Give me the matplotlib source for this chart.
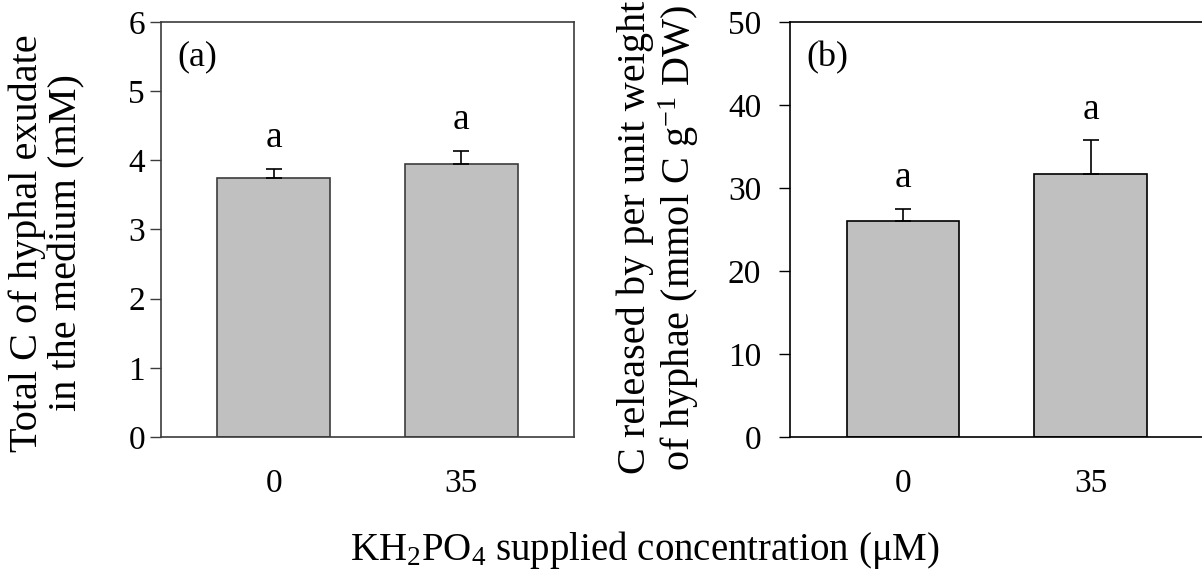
import numpy as np
import matplotlib
matplotlib.use("Agg")
import matplotlib.pyplot as plt

plt.rcParams['font.family'] = ['Liberation Serif', 'DejaVu Serif']
plt.rcParams['mathtext.fontset'] = 'custom'
plt.rcParams['mathtext.rm'] = 'Liberation Serif'
plt.rcParams['mathtext.it'] = 'Liberation Serif:italic'

# data
conc = ['0', '35']
totalC = [3.74, 3.95]          # mM
totalC_se = [0.14, 0.19]
perWeight = [26.0, 31.65]      # mmol C g-1 DW
perWeight_se = [1.5, 4.1]
letters_a = ['a', 'a']
letters_b = ['a', 'a']

fig = plt.figure(figsize=(12.02, 5.80), dpi=100)
axA = fig.add_axes([0.1339, 0.2466, 0.3436, 0.7155])
axB = fig.add_axes([0.6575, 0.2466, 0.3436, 0.7155])

def panel(ax, vals, errs, lets, ymax, step, tag, spcol, pad):
    x = np.arange(len(vals))
    ax.bar(x, vals, width=0.6, color='#c0c0c0', edgecolor=spcol, linewidth=1.2, zorder=2)
    ax.errorbar(x, vals, yerr=[np.zeros(len(errs)), errs], fmt='none',
                ecolor='black', elinewidth=1.2, capsize=5.5, capthick=1.2, zorder=3)
    for xi, v, e, l in zip(x, vals, errs, lets):
        ax.annotate(l, (xi, v + e), xytext=(0, 15.5), textcoords='offset points',
                    ha='center', va='baseline', fontsize=27)
    ax.set_xlim(-0.6, 1.6)
    ax.set_ylim(0, ymax)
    ax.set_yticks(np.arange(0, ymax + step / 2, step))
    ax.set_xticks(x)
    ax.set_xticklabels(conc)
    ax.tick_params(axis='y', direction='out', length=8, width=1, labelsize=24, pad=pad, color=spcol)
    ax.tick_params(axis='x', length=0, labelsize=24, pad=23)
    for s in ax.spines.values():
        s.set_color(spcol)
        s.set_linewidth(1.2)
    ax.text(0.04, 0.955, tag, transform=ax.transAxes, ha='left', va='top', fontsize=26)

panel(axA, totalC, totalC_se, letters_a, 6, 1, '(a)', '#3c3c3c', 3.5)
panel(axB, perWeight, perWeight_se, letters_b, 50, 10, '(b)', 'black', 13)

fig.text(0.039, 0.581, 'Total C of hyphal exudate\nin the medium (mM)', rotation=90,
         ha='center', va='center', fontsize=29, linespacing=1.05)
fig.text(0.548, 0.59, 'C released by per unit weight\nof hyphae (mmol C g$^{-1}$ DW)', rotation=90,
         ha='center', va='center', fontsize=29, linespacing=1.05)
fig.text(0.291, 0.052, 'KH$_2$PO$_4$ supplied concentration (\u03bcM)',
         ha='left', va='center', fontsize=28)

fig.savefig('out.png', dpi=100)
